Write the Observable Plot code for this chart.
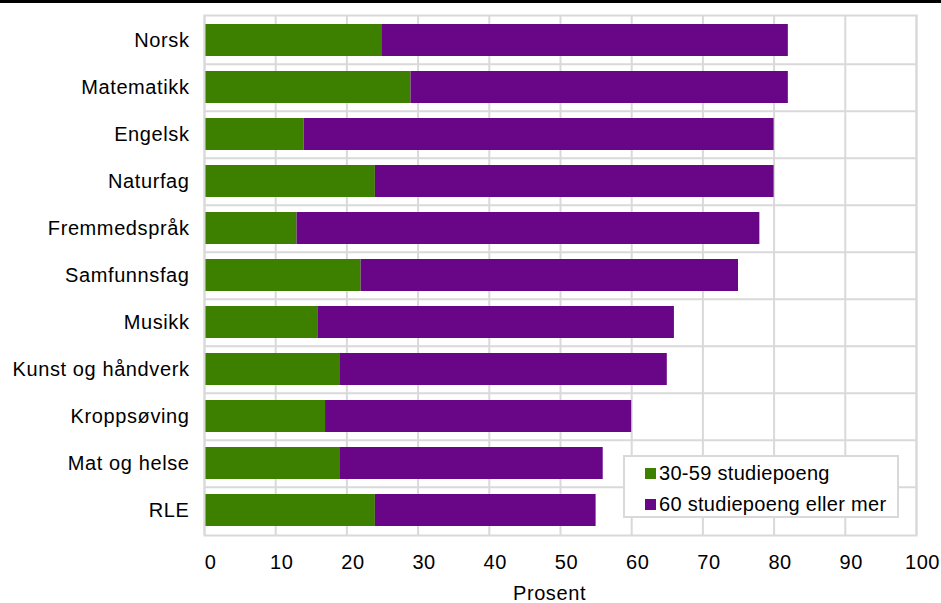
<!DOCTYPE html>
<html>
<head>
<meta charset="utf-8">
<script src="https://cdn.jsdelivr.net/npm/d3@7"></script>
<script src="https://cdn.jsdelivr.net/npm/@observablehq/plot@0.6"></script>
<style>
  html, body { margin: 0; padding: 0; background: #fff; }
  #wrap { position: relative; width: 941px; height: 603px; font-family: "Liberation Sans", Arial, sans-serif; }
  #wrap svg text { letter-spacing: 0.6px; }
  #topline { position: absolute; left: 0; top: 0; width: 941px; height: 3px; background: #000; }
  #legend { position: absolute; left: 623px; top: 455px; width: 272px; height: 59px; background: #fff; border: 2px solid #d9d9d9; }
  .lrow { position: absolute; left: 20px; height: 24px; line-height: 24px; font-size: 20px; letter-spacing: 0.3px; color: #000; white-space: nowrap; display: flex; align-items: center; }
  .lsw { width: 11px; height: 11px; margin-right: 3px; display: inline-block; }
</style>
</head>
<body>
<div id="wrap"><div id="topline"></div></div>
<script>
const categories = ["Norsk", "Matematikk", "Engelsk", "Naturfag", "Fremmedspråk", "Samfunnsfag", "Musikk", "Kunst og håndverk", "Kroppsøving", "Mat og helse", "RLE"];
const studiepoeng30_59 = [25, 29, 14, 24, 13, 22, 16, 19, 17, 19, 24];
const studiepoeng60pluss = [57, 53, 66, 56, 65, 53, 50, 46, 43, 37, 31];
const seriesNames = ["30-59 studiepoeng", "60 studiepoeng eller mer"];
const seriesColors = ["#3d8000", "#690687"];
const xTicks = [0, 10, 20, 30, 40, 50, 60, 70, 80, 90, 100];
const xTitle = "Prosent";

const data = [];
categories.forEach((c, i) => {
  data.push({fag: c, serie: seriesNames[0], verdi: studiepoeng30_59[i]});
  data.push({fag: c, serie: seriesNames[1], verdi: studiepoeng60pluss[i]});
});

const W = 941, H = 603, mT = 15, mB = 68, mL = 204, mR = 25;
const step = (H - mT - mB) / categories.length;

const chart = Plot.plot({
  width: W, height: H,
  marginTop: mT, marginBottom: mB, marginLeft: mL, marginRight: mR,
  style: {fontFamily: "'Liberation Sans', Arial, sans-serif", fontSize: "20px", color: "#000", background: "#fff", overflow: "visible"},
  x: {domain: [0, 100]},
  y: {domain: categories, paddingInner: 0.32, paddingOuter: 0.16},
  color: {domain: seriesNames, range: seriesColors},
  marks: [
    Plot.gridX(xTicks, {stroke: "#d9d9d9", strokeWidth: 2, strokeOpacity: 1}),
    Plot.ruleY(categories.slice(0, -1), {y: d => d, dy: step / 2, stroke: "#d9d9d9", strokeWidth: 2}),
    Plot.barX(data, {y: "fag", x: "verdi", fill: "serie", order: seriesNames}),
    Plot.frame({stroke: "#d9d9d9", strokeWidth: 2}),
    Plot.axisY({tickSize: 0, tickPadding: 15, label: null, fontSize: 20}),
    Plot.axisX(xTicks, {tickSize: 0, tickPadding: 19, dx: 6, fontSize: 20, label: null}),
    Plot.text([xTitle], {text: d => d, frameAnchor: "bottom", lineAnchor: "middle", dy: 58, dx: -11, fontSize: 20, fill: "#000"})
  ]
});

const wrap = document.getElementById("wrap");
wrap.insertBefore(chart, wrap.firstChild);

const legend = document.createElement("div");
legend.id = "legend";
const rowTops = [4, 35];
seriesNames.forEach((name, i) => {
  const row = document.createElement("div");
  row.className = "lrow";
  row.style.top = rowTops[i] + "px";
  const sw = document.createElement("span");
  sw.className = "lsw";
  sw.style.background = seriesColors[i];
  row.appendChild(sw);
  row.appendChild(document.createTextNode(name));
  legend.appendChild(row);
});
wrap.appendChild(legend);
</script>
</body>
</html>
